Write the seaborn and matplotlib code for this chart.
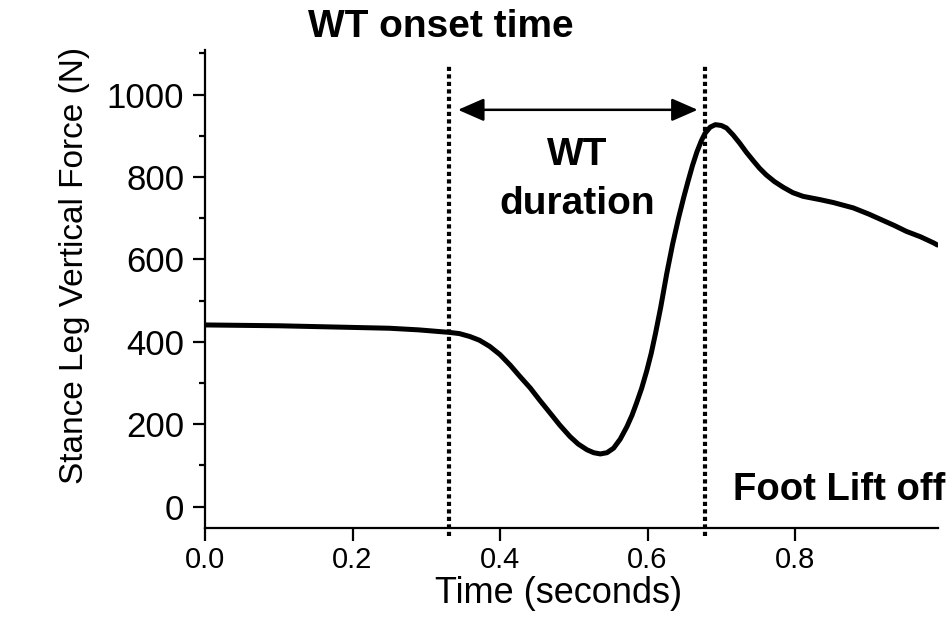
import numpy as np
import pandas as pd
import matplotlib
matplotlib.use("Agg")
import matplotlib.pyplot as plt
import seaborn as sns

# Force curve (time in s, force in N)
time_s = [0.000, 0.050, 0.100, 0.150, 0.200, 0.250, 0.290, 0.331, 0.345, 0.359,
          0.372, 0.386, 0.400, 0.414, 0.427, 0.441, 0.454, 0.468, 0.481, 0.495,
          0.506, 0.518, 0.527, 0.536, 0.545, 0.554, 0.563, 0.572, 0.579, 0.585,
          0.592, 0.599, 0.605, 0.611, 0.618, 0.626, 0.634, 0.642, 0.649, 0.655,
          0.661, 0.667, 0.673, 0.678, 0.685, 0.692, 0.700, 0.707, 0.716, 0.725,
          0.734, 0.744, 0.752, 0.761, 0.772, 0.784, 0.797, 0.811, 0.834, 0.852,
          0.879, 0.900, 0.915, 0.935, 0.951, 0.970, 0.988, 0.993]
force_n = [441, 440, 439, 437, 435, 433, 429, 423, 420, 413,
           404, 389, 369, 343, 316, 288, 258, 227, 198, 170,
           152, 138, 131, 128, 131, 142, 164, 194, 222, 251,
           287, 330, 372, 422, 485, 565, 637, 700, 750, 790,
           828, 861, 888, 906, 921, 927, 925, 919, 902, 882,
           860, 838, 821, 805, 789, 775, 762, 753, 745, 738,
           725, 710, 698, 682, 668, 655, 640, 635]

onset_time = 0.331
liftoff_time = 0.678
arrow_y = 963
x_ticks = [0.0, 0.2, 0.4, 0.6, 0.8]
y_ticks = [0, 200, 400, 600, 800, 1000]

df = pd.DataFrame({"time": time_s, "force": force_n})

sns.set_style("ticks")
plt.rcParams["font.family"] = ["Liberation Sans", "DejaVu Sans"]
plt.rcParams["text.color"] = "black"
plt.rcParams["axes.labelcolor"] = "black"
plt.rcParams["xtick.color"] = "black"
plt.rcParams["ytick.color"] = "black"

fig = plt.figure(figsize=(9.53, 6.18), dpi=100)
ax = fig.add_axes([0.2151, 0.1461, 0.7689, 0.7729])

sns.lineplot(data=df, x="time", y="force", ax=ax, color="black", linewidth=3.6,
             sort=False, estimator=None)
ax.lines[0].set_solid_joinstyle("round")

# dotted markers for onset and lift-off
for t in [onset_time, liftoff_time]:
    ax.plot([t, t], [-72, 1072], color="black", linewidth=3.0,
            linestyle=(0, (1, 0.8)), clip_on=False)

# double-headed duration arrow
ax.annotate("", xy=(0.668, arrow_y), xytext=(0.343, arrow_y),
            arrowprops=dict(arrowstyle="<|-|>,head_length=0.8,head_width=0.35",
                            color="black", lw=1.8, mutation_scale=20,
                            shrinkA=0, shrinkB=0))

ax.text(0.320, 1140, "WT onset time", fontsize=28, fontweight="bold",
        ha="center", va="baseline", clip_on=False)
ax.text(0.505, 830, "WT", fontsize=28, fontweight="bold", ha="center", va="baseline")
ax.text(0.505, 711, "duration", fontsize=28, fontweight="bold", ha="center", va="baseline")
ax.text(0.716, 16, "Foot Lift off", fontsize=27.5, fontweight="bold",
        ha="left", va="baseline", clip_on=False)

ax.set_xlim(0, 0.9935)
ax.set_ylim(-51, 1108)
ax.set_xticks(x_ticks)
ax.set_xticklabels([f"{v:.1f}" for v in x_ticks])
ax.set_yticks(y_ticks)
ax.set_yticks(np.arange(0, 1101, 100), minor=True)

ax.set_xlabel("Time (seconds)", fontsize=26)
ax.set_ylabel("Stance Leg Vertical Force (N)", fontsize=24)
ax.xaxis.set_label_coords(0.483, -0.1015)
ax.yaxis.set_label_coords(-0.157, 0.55)

sns.despine(ax=ax)
for side in ["left", "bottom"]:
    ax.spines[side].set_linewidth(1.6)
    ax.spines[side].set_color("black")
ax.tick_params(axis="both", which="major", length=9, width=1.6, color="black")
ax.tick_params(axis="x", which="major", labelsize=21, pad=4)
ax.tick_params(axis="y", which="major", labelsize=25, pad=6)
ax.tick_params(axis="y", which="minor", length=4, width=1.6, color="black")
ax.tick_params(axis="x", which="minor", length=0)

fig.savefig("out.png", dpi=100)
